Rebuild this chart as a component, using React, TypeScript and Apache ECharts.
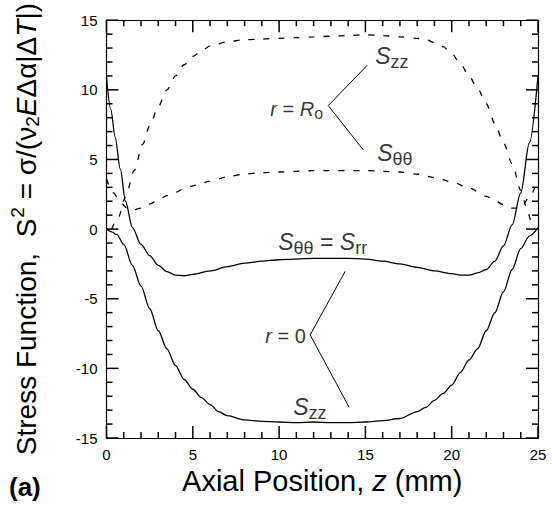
import { useEffect, useRef } from "react";
import * as echarts from "echarts";

// Axial position z (mm) and stress function values for each curve.
// r = 0 (solid curves)
const coreZzZ = [0, 0.3, 0.6, 1.0, 1.5, 2.0, 2.5, 3.0, 3.5, 4.0, 4.5, 5.0, 5.5, 6.0, 6.5, 7.0, 8.0, 9.0, 10, 11, 12, 13, 14, 15, 16, 17, 18, 18.5, 19, 19.5, 20, 20.5, 21, 21.5, 22, 22.5, 23, 23.5, 24, 24.5, 25];
const coreZzS = [0, -0.2, -0.4, -1.1, -2.6, -4.1, -5.7, -7.3, -8.6, -9.8, -10.8, -11.5, -12.1, -12.6, -13.1, -13.4, -13.7, -13.8, -13.85, -13.9, -13.85, -13.9, -13.9, -13.85, -13.75, -13.6, -13.1, -12.8, -12.3, -11.8, -11.2, -10.3, -9.4, -8.6, -7.3, -6.0, -4.5, -2.9, -1.4, -0.5, 0.1];

const coreTtZ = [0, 0.25, 0.5, 0.8, 1.1, 1.5, 2.0, 2.5, 3.0, 3.5, 4.0, 4.5, 5.0, 6.0, 7.0, 8.0, 9.0, 10, 11, 12, 13, 14, 15, 16, 17, 18, 19, 20, 20.5, 21, 21.5, 22, 22.5, 23, 23.5, 24, 24.5, 25];
const coreTtS = [10.9, 8.6, 6.6, 4.3, 2.0, 0.1, -1.1, -1.9, -2.6, -3.05, -3.3, -3.35, -3.25, -3.0, -2.7, -2.45, -2.3, -2.2, -2.15, -2.1, -2.1, -2.1, -2.15, -2.3, -2.5, -2.75, -3.0, -3.2, -3.3, -3.3, -3.15, -2.9, -2.3, -1.2, 0.3, 2.6, 6.2, 11.0];

// r = Ro (dashed curves)
const surfZzZ = [0.3, 0.7, 1.1, 1.6, 2.1, 2.5, 3.0, 3.5, 4.0, 4.5, 5.0, 5.5, 6.0, 7.0, 8.0, 9.0, 10, 11, 12, 13, 14, 15, 16, 17, 18, 18.5, 19, 19.5, 20, 20.5, 21, 21.5, 22, 22.5, 23, 23.5, 24, 24.3, 24.6, 24.8];
const surfZzS = [0, 0.9, 2.3, 4.2, 6.1, 7.4, 8.8, 10.0, 11.0, 11.8, 12.4, 12.8, 13.15, 13.45, 13.6, 13.65, 13.7, 13.75, 13.8, 13.85, 13.9, 13.95, 13.9, 13.8, 13.7, 13.6, 13.4, 13.1, 12.6, 11.9, 11.0, 10.1, 9.0, 7.6, 6.2, 4.7, 2.8, 1.7, 0.6, 0];

const surfTtZ = [0, 0.4, 0.8, 1.2, 1.6, 2.0, 2.5, 3.0, 3.5, 4.0, 4.5, 5.0, 5.5, 6.0, 7, 8, 9, 10, 11, 12, 13, 14, 15, 16, 17, 18, 19, 20, 21, 22, 22.5, 23, 23.5, 24, 24.5, 25];
const surfTtS = [3.6, 2.6, 1.9, 1.5, 1.4, 1.5, 1.8, 2.1, 2.4, 2.65, 2.9, 3.1, 3.3, 3.45, 3.75, 3.95, 4.05, 4.1, 4.15, 4.2, 4.2, 4.2, 4.2, 4.15, 4.1, 3.95, 3.7, 3.4, 2.95, 2.35, 2.05, 1.75, 1.5, 1.5, 2.3, 3.6];

// Leader lines (z, S) : end, vertex, end
const leaderSurf = [[15.1, 11.76], [12.85, 8.87], [14.87, 5.7]];
const leaderCore = [[13.83, -3.03], [11.8, -7.6], [14.06, -12.8]];

// Axis ranges and tick steps
const Z_MIN = 0;
const Z_MAX = 25;
const S_MIN = -15;
const S_MAX = 15;
const MAJOR_STEP = 5;

const FONT = "'Liberation Sans', Arial, Helvetica, sans-serif";

const pair = (zs: number[], ss: number[]) => zs.map((z, i) => [z, ss[i]]);

// Annotation text anchors (z, S) -> left edge, vertical middle
const annotations: { at: [number, number]; text: string }[] = [
  { at: [15.57, 12.46], text: "{s|S}{sub|zz}" },
  { at: [15.68, 5.49], text: "{s|S}{sub|θθ}" },
  { at: [9.49, 8.66], text: "{r|r}{n| = }{r|R}{rs|o}" },
  { at: [9.95, -0.92], text: "{s|S}{sub|θθ}{n2| = }{s|S}{sub|rr}" },
  { at: [9.2, -7.68], text: "{r|r}{n| = 0}" },
  { at: [10.82, -12.75], text: "{s|S}{sub|zz}" },
];

const annRich = {
  s: { fontFamily: FONT, fontSize: 23, fontStyle: "italic", color: "#000", lineHeight: 23 },
  sub: { fontFamily: FONT, fontSize: 18, color: "#000", lineHeight: 18, padding: [13, 0, 0, 0] },
  n2: { fontFamily: FONT, fontSize: 23, color: "#000", lineHeight: 23 },
  r: { fontFamily: FONT, fontSize: 20, fontStyle: "italic", color: "#000", lineHeight: 20 },
  n: { fontFamily: FONT, fontSize: 20, color: "#000", lineHeight: 20 },
  rs: { fontFamily: FONT, fontSize: 16, color: "#000", lineHeight: 16, padding: [10, 0, 0, 0] },
};

// Tick marks for the frame: [value, axis (0 = z, 1 = S), major flag]
const frameTicks: number[][] = [];
for (let z = Z_MIN; z <= Z_MAX; z += 1) frameTicks.push([z, 0, z % MAJOR_STEP === 0 ? 1 : 0]);
for (let s = S_MIN; s <= S_MAX; s += 1) frameTicks.push([s, 1, s % MAJOR_STEP === 0 ? 1 : 0]);

// Framed axis; the inward ticks come from the frame-tick series
const frameAxis = (min: number, max: number, position: string, labels: boolean) => ({
  type: "value",
  min,
  max,
  interval: MAJOR_STEP,
  position,
  axisLine: { show: true, onZero: false, lineStyle: { color: "#000", width: 1.2 } },
  axisTick: { show: false },
  minorTick: { show: false },
  splitLine: { show: false },
  minorSplitLine: { show: false },
  axisLabel: labels
    ? { show: true, color: "#000", fontFamily: FONT, fontSize: 15, margin: 9 }
    : { show: false },
});

export default function App() {
  const ref = useRef<HTMLDivElement>(null);

  useEffect(() => {
    if (!ref.current) return;
    const chart = echarts.init(ref.current, undefined, { renderer: "svg" });

    const solid = { color: "#000", width: 1.3, type: "solid" };
    const dashed = { color: "#000", width: 1.3, type: [6, 9] };

    const lineSeries = (data: number[][], style: any, smooth: number | boolean) => ({
      type: "line",
      data,
      symbol: "none",
      showSymbol: false,
      smooth,
      smoothMonotone: "x",
      lineStyle: style,
      silent: true,
      xAxisIndex: 0,
      yAxisIndex: 0,
    });

    const tickStyle = { stroke: "#000", fill: "none", lineWidth: 1.5 };

    chart.setOption({
      animation: false,
      backgroundColor: "#fff",
      title: {
        text: "(a)",
        left: 9,
        top: 474,
        padding: 0,
        textStyle: { fontFamily: FONT, fontSize: 26, fontWeight: "bold", color: "#000" },
      },
      grid: { left: 106, right: 14, top: 12, bottom: 68, containLabel: false },
      xAxis: [
        {
          ...frameAxis(Z_MIN, Z_MAX, "bottom", true),
          name: "{t|Axial Position, }{i|z}{t| (mm)}",
          nameLocation: "middle",
          nameGap: 20,
          nameTextStyle: {
            verticalAlign: "top",
            rich: {
              t: { fontFamily: FONT, fontSize: 29, color: "#000" },
              i: { fontFamily: FONT, fontSize: 29, fontStyle: "italic", color: "#000" },
            },
          },
        },
        frameAxis(Z_MIN, Z_MAX, "top", false),
      ],
      yAxis: [
        {
          ...frameAxis(S_MIN, S_MAX, "left", true),
          name: "{t|Stress Function,  S}{sup|2}{t| = σ/(ν}{sub|2}{i|E}{t|Δα|Δ}{i|T}{t||)}",
          nameLocation: "middle",
          nameRotate: 90,
          nameGap: 66,
          nameTextStyle: {
            rich: {
              t: { fontFamily: FONT, fontSize: 28, color: "#000", lineHeight: 28 },
              i: { fontFamily: FONT, fontSize: 28, fontStyle: "italic", color: "#000", lineHeight: 28 },
              sup: { fontFamily: FONT, fontSize: 19, color: "#000", lineHeight: 19, padding: [0, 0, 18, 1] },
              sub: { fontFamily: FONT, fontSize: 19, color: "#000", lineHeight: 19, padding: [12, 0, 0, 0] },
            },
          },
        },
        frameAxis(S_MIN, S_MAX, "right", false),
      ],
      series: [
        {
          // Inward ticks on all four sides of the frame
          type: "custom",
          xAxisIndex: 0,
          yAxisIndex: 0,
          silent: true,
          clip: false,
          z: 10,
          data: frameTicks,
          encode: { x: -1, y: -1 },
          renderItem: (_params: any, api: any) => {
            const v = api.value(0);
            const axis = api.value(1);
            const len = api.value(2) === 1 ? 12 : 6;
            if (axis === 0) {
              const b = api.coord([v, S_MIN]);
              const t = api.coord([v, S_MAX]);
              return {
                type: "group",
                children: [
                  { type: "line", shape: { x1: b[0], y1: b[1], x2: b[0], y2: b[1] - len }, style: tickStyle },
                  { type: "line", shape: { x1: t[0], y1: t[1], x2: t[0], y2: t[1] + len }, style: tickStyle },
                ],
              };
            }
            const l = api.coord([Z_MIN, v]);
            const r = api.coord([Z_MAX, v]);
            return {
              type: "group",
              children: [
                { type: "line", shape: { x1: l[0], y1: l[1], x2: l[0] + len, y2: l[1] }, style: tickStyle },
                { type: "line", shape: { x1: r[0], y1: r[1], x2: r[0] - len, y2: r[1] }, style: tickStyle },
              ],
            };
          },
        },
        lineSeries(pair(coreZzZ, coreZzS), solid, 0.3),
        lineSeries(pair(coreTtZ, coreTtS), solid, 0.3),
        lineSeries(pair(surfZzZ, surfZzS), dashed, 0.3),
        lineSeries(pair(surfTtZ, surfTtS), dashed, 0.3),
        lineSeries(leaderSurf, { color: "#000", width: 1 }, false),
        lineSeries(leaderCore, { color: "#000", width: 1 }, false),
        {
          // Curve labels, anchored in data coordinates
          type: "scatter",
          xAxisIndex: 0,
          yAxisIndex: 0,
          symbol: "circle",
          symbolSize: 0,
          silent: true,
          itemStyle: { color: "transparent" },
          label: { show: true, position: "right", distance: 0, rich: annRich },
          labelLayout: { hideOverlap: false },
          data: annotations.map((a) => ({
            value: a.at,
            label: { formatter: a.text },
          })),
        },
      ],
    });

    return () => chart.dispose();
  }, []);

  return (
    <div
      ref={ref}
      style={{ position: "fixed", left: 0, top: 0, width: 552, height: 506, background: "#fff" }}
    />
  );
}
